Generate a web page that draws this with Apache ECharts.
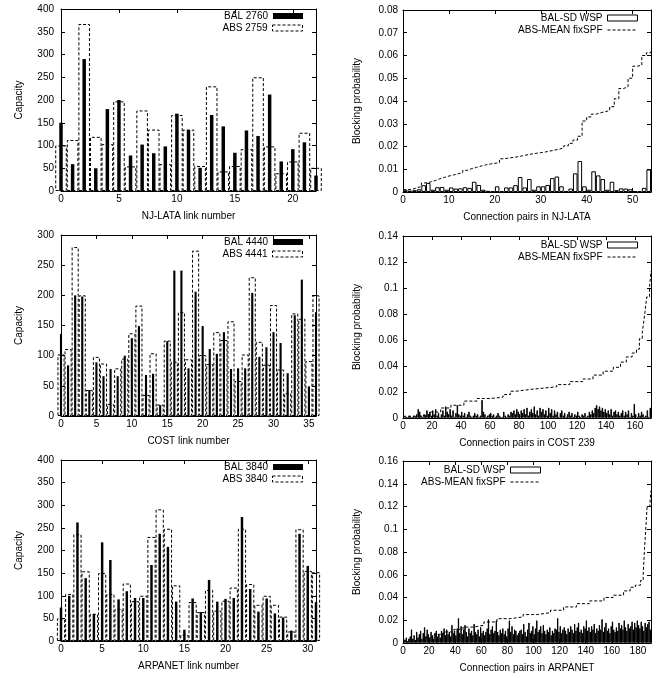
<!DOCTYPE html>
<html>
<head>
<meta charset="utf-8">
<script src="https://cdn.jsdelivr.net/npm/echarts@6/dist/echarts.min.js"></script>
<style>
html, body { margin: 0; padding: 0; background: #fff; }
#container { width: 660px; height: 678px; }
</style>
</head>
<body>
<div id="container"></div>
<script>
// capacities per link
let njBal = [150, 59, 290, 50, 180, 200, 78, 102, 83, 98, 170, 134, 51, 167, 142, 84, 133, 121, 212, 65, 92, 107, 34];
let njAbs = [100, 112, 367, 119, 103, 197, 54, 177, 135, 59, 167, 135, 55, 230, 43, 55, 92, 250, 98, 39, 65, 128, 51];
let costBal = [136, 84, 200, 198, 43, 89, 66, 78, 66, 100, 129, 149, 68, 70, 18, 124, 241, 241, 79, 206, 149, 111, 103, 139, 78, 79, 79, 204, 98, 114, 139, 121, 71, 167, 226, 49, 172];
let costAbs = [102, 111, 280, 200, 43, 98, 87, 20, 79, 95, 137, 183, 35, 104, 19, 125, 90, 172, 94, 274, 101, 86, 139, 126, 157, 58, 102, 230, 123, 85, 184, 77, 38, 170, 161, 91, 200];
let arpaBal = [74, 100, 262, 139, 60, 218, 179, 92, 110, 95, 95, 168, 237, 208, 87, 25, 94, 64, 135, 87, 93, 95, 274, 115, 65, 94, 61, 52, 23, 237, 166, 86];
let arpaAbs = [50, 104, 236, 154, 60, 150, 104, 71, 127, 88, 100, 230, 291, 248, 123, 14, 86, 64, 113, 67, 89, 118, 248, 126, 80, 100, 80, 54, 21, 247, 155, 152];

// blocking probability per connection pair
let njWsp = [0.0010, 0.0006, 0.0008, 0.0012, 0.0030, 0.0040, 0.0010, 0.0021, 0.0022, 0.0010,
    0.0020, 0.0015, 0.0016, 0.0021, 0.0018, 0.0045, 0.0031, 0.0010, 0.0005, 0.0003,
    0.0025, 0.0003, 0.0020, 0.0020, 0.0030, 0.0066, 0.0020, 0.0057, 0.0010, 0.0025,
    0.0025, 0.0031, 0.0061, 0.0068, 0.0025, 0.0003, 0.0015, 0.0082, 0.0136, 0.0025,
    0.0010, 0.0091, 0.0073, 0.0057, 0.0010, 0.0045, 0.0008, 0.0016, 0.0015, 0.0012,
    0.0003, 0.0004, 0.0018, 0.0099];
let njSpf = [0.0010, 0.0012, 0.0018, 0.0024, 0.0040, 0.0044, 0.0050, 0.0058, 0.0064, 0.0070,
    0.0075, 0.0080, 0.0085, 0.0095, 0.0103, 0.0108, 0.0114, 0.0119, 0.0123, 0.0126,
    0.0129, 0.0146, 0.0149, 0.0152, 0.0155, 0.0159, 0.0163, 0.0167, 0.0170, 0.0173,
    0.0176, 0.0180, 0.0184, 0.0188, 0.0194, 0.0203, 0.0214, 0.0228, 0.0245, 0.0312,
    0.0330, 0.0342, 0.0348, 0.0353, 0.0358, 0.0375, 0.0410, 0.0455, 0.0462, 0.0500,
    0.0553, 0.0557, 0.0600, 0.0612, 0.0620];

let costWsp = [0.002, 0.001, 0.001, 0.001, 0.002, 0.001, 0.001, 0.002, 0.001, 0.003,
    0.007, 0.005, 0.002, 0.001, 0.003, 0.002, 0.006, 0.003, 0.005, 0.002,
    0.006, 0.003, 0.007, 0.002, 0.004, 0.001, 0.003, 0.006, 0.002, 0.009,
    0.005, 0.003, 0.007, 0.002, 0.006, 0.001, 0.004, 0.010, 0.003, 0.002,
    0.005, 0.002, 0.004, 0.001, 0.003, 0.005, 0.002, 0.001, 0.002, 0.004,
    0.002, 0.003, 0.001, 0.002, 0.014, 0.005, 0.003, 0.001, 0.002, 0.003,
    0.004, 0.002, 0.003, 0.001, 0.002, 0.004, 0.002, 0.001, 0.001, 0.005,
    0.002, 0.001, 0.003, 0.002, 0.005, 0.004, 0.006, 0.003, 0.007, 0.005,
    0.002, 0.006, 0.004, 0.007, 0.003, 0.008, 0.002, 0.005, 0.007, 0.004,
    0.009, 0.003, 0.006, 0.002, 0.008, 0.005, 0.007, 0.003, 0.006, 0.002,
    0.008, 0.004, 0.007, 0.002, 0.006, 0.003, 0.005, 0.001, 0.004, 0.006,
    0.002, 0.004, 0.001, 0.003, 0.005, 0.002, 0.004, 0.001, 0.003, 0.002,
    0.005, 0.002, 0.001, 0.003, 0.002, 0.004, 0.001, 0.002, 0.005, 0.003,
    0.006, 0.004, 0.008, 0.010, 0.007, 0.009, 0.006, 0.008, 0.005, 0.007,
    0.004, 0.006, 0.003, 0.007, 0.002, 0.005, 0.006, 0.003, 0.005, 0.002,
    0.004, 0.006, 0.002, 0.005, 0.003, 0.006, 0.001, 0.004, 0.002, 0.011,
    0.003, 0.001, 0.004, 0.002, 0.005, 0.003, 0.001, 0.002, 0.006, 0.001,
    0.008];
let costSpfX = [0, 10, 19, 26, 33, 42, 51, 60, 69, 74, 78, 88, 97, 106, 115, 124, 131, 138, 145, 150, 154, 158, 161, 163, 165, 166, 167, 168, 170, 171];
let costSpfY = [0.0013, 0.0026, 0.0046, 0.0077, 0.0098, 0.013, 0.015, 0.016, 0.018, 0.0206, 0.022, 0.023, 0.024, 0.0257, 0.028,
    0.030, 0.033, 0.036, 0.039, 0.043, 0.047, 0.050, 0.053, 0.061, 0.066, 0.074, 0.083, 0.093, 0.101, 0.113];

let arpaWsp = [0.004, 0.003, 0.005, 0.002, 0.004, 0.006, 0.012, 0.004, 0.007, 0.003,
    0.010, 0.005, 0.008, 0.011, 0.004, 0.009, 0.014, 0.006, 0.012, 0.008,
    0.005, 0.010, 0.007, 0.004, 0.009, 0.011, 0.006, 0.008, 0.005, 0.011,
    0.009, 0.013, 0.007, 0.012, 0.008, 0.010, 0.006, 0.016, 0.009, 0.011,
    0.007, 0.013, 0.022, 0.009, 0.015, 0.008, 0.012, 0.016, 0.010, 0.006,
    0.013, 0.009, 0.011, 0.007, 0.017, 0.010, 0.008, 0.012, 0.006, 0.014,
    0.009, 0.011, 0.007, 0.010, 0.013, 0.021, 0.008, 0.012, 0.015, 0.009,
    0.011, 0.020, 0.010, 0.007, 0.012, 0.009, 0.013, 0.008, 0.011, 0.006,
    0.013, 0.020, 0.010, 0.015, 0.008, 0.012, 0.011, 0.007, 0.009, 0.011,
    0.012, 0.008, 0.017, 0.010, 0.006, 0.012, 0.018, 0.009, 0.011, 0.015,
    0.008, 0.013, 0.020, 0.010, 0.012, 0.015, 0.009, 0.016, 0.011, 0.008,
    0.012, 0.010, 0.014, 0.007, 0.011, 0.009, 0.013, 0.012, 0.022, 0.010,
    0.015, 0.009, 0.012, 0.014, 0.011, 0.008, 0.013, 0.010, 0.015, 0.012,
    0.009, 0.017, 0.011, 0.014, 0.018, 0.010, 0.012, 0.009, 0.015, 0.013,
    0.020, 0.011, 0.014, 0.010, 0.015, 0.012, 0.017, 0.009, 0.013, 0.011,
    0.016, 0.012, 0.021, 0.010, 0.014, 0.018, 0.011, 0.013, 0.009, 0.015,
    0.019, 0.012, 0.010, 0.014, 0.011, 0.018, 0.013, 0.016, 0.012, 0.020,
    0.014, 0.011, 0.017, 0.013, 0.015, 0.019, 0.012, 0.018, 0.014, 0.020,
    0.016, 0.013, 0.019, 0.015, 0.011, 0.018, 0.014, 0.017, 0.019, 0.012];
let arpaSpfX = [0, 8, 16, 24, 31, 39, 46, 54, 62, 72, 82, 92, 103, 113, 123, 133, 143, 154, 161, 169, 174, 178, 182, 184, 185, 186, 187, 189, 190];
let arpaSpfY = [0.0015, 0.003, 0.005, 0.0076, 0.0097, 0.012, 0.014, 0.0156, 0.0185, 0.0214, 0.0229, 0.025, 0.0267, 0.0288, 0.0317,
    0.0346, 0.037, 0.040, 0.042, 0.0458, 0.049, 0.0508, 0.055, 0.0596, 0.082, 0.100, 0.120, 0.120, 0.134];

const FONT = 'Liberation Sans';
const DASH = [3, 2];
const LW = 255, RW = 248;

let dom = document.getElementById("container");
let myChart = echarts.init(dom);

let grids = [
    { left: 61, top: 9, width: LW, height: 182 },
    { left: 403, top: 10, width: RW, height: 182 },
    { left: 61, top: 235, width: LW, height: 181 },
    { left: 403, top: 236, width: RW, height: 182 },
    { left: 61, top: 460, width: LW, height: 181 },
    { left: 403, top: 461, width: RW, height: 182 }
];

let xAxes = [];
let yAxes = [];

function addAxes(g, xMax, xInt, xName, yMax, yInt, yName, yGap, yMargin) {
    let common = {
        type: 'value', gridIndex: g,
        axisLine: { show: true, onZero: false, lineStyle: { color: '#000', width: 1 } },
        axisTick: { show: true, inside: true, length: 4, lineStyle: { color: '#000', width: 1 } },
        splitLine: { show: false },
        nameTextStyle: { color: '#000', fontSize: 10, fontFamily: FONT }
    };
    xAxes.push(Object.assign({}, common, {
        position: 'bottom', min: 0, max: xMax, interval: xInt,
        name: xName, nameLocation: 'middle', nameGap: 20,
        axisLabel: { color: '#000', fontSize: 10, fontFamily: FONT, margin: 3, showMaxLabel: false, showMinLabel: true }
    }));
    xAxes.push(Object.assign({}, common, {
        position: 'top', min: 0, max: xMax, interval: xInt,
        axisLabel: { show: false }
    }));
    yAxes.push(Object.assign({}, common, {
        position: 'left', min: 0, max: yMax, interval: yInt,
        name: yName, nameLocation: 'middle', nameGap: yGap,
        axisLabel: { color: '#000', fontSize: 10, fontFamily: FONT, margin: yMargin, showMaxLabel: true, showMinLabel: true }
    }));
    yAxes.push(Object.assign({}, common, {
        position: 'right', min: 0, max: yMax, interval: yInt,
        axisLabel: { show: false }
    }));
}

addAxes(0, 22, 5, 'NJ-LATA link number', 400, 50, 'Capacity', 37, 7);
addAxes(1, 54, 10, 'Connection pairs in NJ-LATA', 0.08, 0.01, 'Blocking probability', 41, 5);
addAxes(2, 36, 5, 'COST link number', 300, 50, 'Capacity', 37, 7);
addAxes(3, 171, 20, 'Connection pairs in COST 239', 0.14, 0.02, 'Blocking probability', 41, 5);
addAxes(4, 31, 5, 'ARPANET link number', 400, 50, 'Capacity', 37, 7);
addAxes(5, 190, 20, 'Connection pairs in ARPANET', 0.16, 0.02, 'Blocking probability', 41, 5);

let series = [];
let legends = [];

const balStyle = { color: '#000', borderWidth: 0 };
const absStyle = { color: 'rgba(0,0,0,0)', borderColor: '#000', borderWidth: 1, borderType: DASH };
const wspStyle = { color: '#fff', borderColor: '#000', borderWidth: 1 };
const spfLine = { color: '#000', width: 1, type: DASH };

function legendItem(name, right, top, extra) {
    return {
        data: [Object.assign({ name: name }, extra)],
        right: right, top: top, orient: 'vertical', align: 'right',
        itemWidth: 30, itemHeight: 6, padding: 0, selectedMode: false,
        textStyle: { color: '#000', fontSize: 10, fontFamily: FONT }
    };
}

function capacityPanel(g, span, bal, abs, balName, absName, legendTop) {
    let unit = LW / span;
    series.push({
        type: 'bar', name: absName, xAxisIndex: 2 * g + 1, yAxisIndex: 2 * g,
        data: abs.map((v, i) => [i, v]), barWidth: unit, clip: true,
        itemStyle: absStyle, z: 2
    });
    series.push({
        type: 'bar', name: balName, xAxisIndex: 2 * g, yAxisIndex: 2 * g,
        data: bal.map((v, i) => [i, v]), barWidth: unit * 0.3, clip: true,
        itemStyle: balStyle, z: 3
    });
    legends.push(legendItem(balName, 357, legendTop, { icon: 'rect', itemStyle: balStyle }));
    legends.push(legendItem(absName, 357, legendTop + 12, { icon: 'rect', itemStyle: absStyle }));
}

// narrow boxes render darker in the reference, so dense panels get a grey fill
function blockingPanel(g, span, wsp, spf, legendRight, legendTop, fill) {
    let unit = RW / span;
    series.push({
        type: 'bar', name: 'BAL-SD WSP', xAxisIndex: 2 * g, yAxisIndex: 2 * g,
        data: wsp.map((v, i) => [i + 0.5, v]), barWidth: unit, clip: true,
        itemStyle: Object.assign({}, wspStyle, { color: fill }), z: 2
    });
    series.push({
        type: 'line', name: 'ABS-MEAN fixSPF', xAxisIndex: 2 * g, yAxisIndex: 2 * g,
        data: spf, step: 'end', symbol: 'none', clip: true,
        itemStyle: { color: '#000' }, lineStyle: spfLine, z: 3
    });
    legends.push(legendItem('BAL-SD WSP', legendRight, legendTop, { icon: 'rect', itemStyle: wspStyle }));
    legends.push(legendItem('ABS-MEAN fixSPF', legendRight, legendTop + 12, { itemStyle: { opacity: 0 }, lineStyle: spfLine }));
}

capacityPanel(0, 22, njBal, njAbs, 'BAL 2760', 'ABS 2759', 11);
blockingPanel(1, 54, njWsp, njSpf.map((v, i) => [i, v]), 22, 13, '#fff');
capacityPanel(2, 36, costBal, costAbs, 'BAL 4440', 'ABS 4441', 237);
blockingPanel(3, 171, costWsp, costSpfX.map((x, i) => [x, costSpfY[i]]), 22, 240, '#777');
capacityPanel(4, 31, arpaBal, arpaAbs, 'BAL 3840', 'ABS 3840', 462);
blockingPanel(5, 190, arpaWsp, arpaSpfX.map((x, i) => [x, arpaSpfY[i]]), 119, 465, '#555');

option = {
    animation: false,
    backgroundColor: '#fff',
    textStyle: { fontFamily: FONT },
    grid: grids,
    xAxis: xAxes,
    yAxis: yAxes,
    legend: legends,
    series: series
};
if (option && typeof option === "object") {
    myChart.setOption(option, true);
}
</script>
</body>
</html>
